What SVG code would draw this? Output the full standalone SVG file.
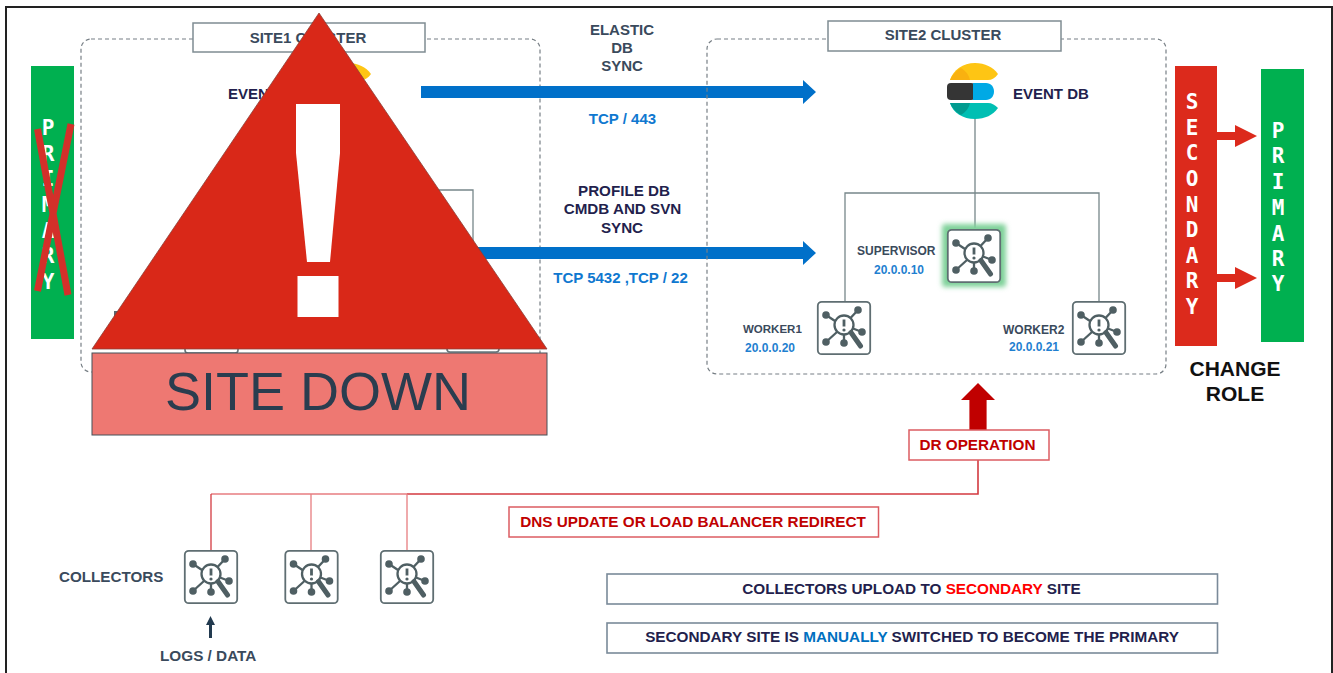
<svg xmlns="http://www.w3.org/2000/svg" width="1333" height="673" viewBox="0 0 1333 673">
<style>
text{font-family:"Liberation Sans",Arial,sans-serif;font-weight:700}
.c{text-anchor:middle}
.lbl{fill:#3a4a5c}
.navy{fill:#231f4d}
.ip{fill:#1f7fd0;font-size:12px}
.tcp{fill:#0f78d0;font-size:15px}
.mono{font-family:"DejaVu Sans Mono","Liberation Mono",monospace;font-size:21px;fill:#fff;text-anchor:middle}
.dash{fill:none;stroke:#777f85;stroke-width:1.2;stroke-dasharray:4 3}
.box{fill:#fff;stroke:#7f8c92;stroke-width:1.5}
.conn{fill:none;stroke:#77878a;stroke-width:1.3}
.rbox{fill:#fff;stroke:#dc5c62;stroke-width:1.5}
.rtxt{fill:#c00000;font-size:15.3px}
.blue{fill:#0070c9}
.red{fill:#dc2a1c}
.nbox{fill:#fff;stroke:#7a8a99;stroke-width:1.6}
.t15{font-size:15.2px}
</style>
<defs>
<filter id="glow" x="-30%" y="-30%" width="160%" height="160%"><feGaussianBlur stdDeviation="2.5"/></filter>
<symbol id="icon" viewBox="0 0 54 54" overflow="visible">
<rect x="0.8" y="0.8" width="52.4" height="52.4" rx="4" fill="#fff" stroke="#5f6e72" stroke-width="1.8"/>
<g stroke="#4f5f63" stroke-width="2.3" fill="none">
<circle cx="27" cy="24" r="9.500"/>
<path d="M9 14 L18 20M41 9 L33.500 17M45 31 L36 27.500M9 41 L20 31M27 42 L27 33.500"/>
<path d="M34 31.500 L43.500 45" stroke-width="5" stroke-linecap="round"/>
<path d="M27 18.500 V25.500" stroke-width="2.800"/>
</g>
<g fill="#4f5f63">
<circle cx="27" cy="29" r="1.600"/>
<circle cx="9" cy="14" r="3.800"/><circle cx="41" cy="9" r="3.800"/><circle cx="45" cy="31" r="3.800"/><circle cx="9" cy="41" r="3.800"/><circle cx="27" cy="42" r="3.800"/>
</g>
</symbol>
<symbol id="elastic" viewBox="0 0 54 60" overflow="visible">
<path d="M3 17 C6 7 16 0 28 0 C38 0 46 4 51 11 C48 15 45 17 41 17Z" fill="#fec514"/>
<path d="M3 17 C5 12 10 7 14 5 C19 8 22 12 23 17Z" fill="#f9b110"/>
<rect x="0" y="20" width="28" height="17" rx="4" fill="#353535"/>
<path d="M26 20 H39 C44 20 47 24 47 28.500 C47 33 44 37 39 37 H26Z" fill="#00a9e5"/>
<path d="M3 40 C6 50 16 56 28 56 C38 56 46 52 51 45 C48 42 45 40 41 40Z" fill="#00bfb3"/>
<path d="M3 40 C5 45 10 50 14 52 C19 49 22 45 23 40Z" fill="#019b8f"/>
</symbol>
</defs>
<rect width="1333" height="673" fill="#fff"/>
<path d="M6 673V7H1332V673" fill="none" stroke="#222" stroke-width="2"/>

<g id="site1-cluster">
<rect class="dash" x="81" y="39" width="459" height="333" rx="10"/>
<rect class="box" x="193" y="23" width="232" height="29"/>
<text class="c lbl" x="308" y="43" style="font-size:15px">SITE1 CLUSTER</text>
<use href="#elastic" x="320" y="63" width="54" height="60"/>
<text class="navy" x="228" y="99" style="font-size:15px">EVENT DB</text>
<path class="conn" d="M300 190H473V245"/>
<rect x="185" y="340" width="53" height="13" rx="3" fill="#fff" stroke="#66757a" stroke-width="1.6"/>
<rect x="447" y="340" width="52" height="12" rx="3" fill="#fff" stroke="#66757a" stroke-width="1.6"/>
<rect x="114" y="311" width="6" height="6" fill="#5a6670"/>
</g>

<g id="primary-left">
<rect x="31" y="66" width="43" height="273" fill="#00b050"/>
<text class="mono" x="48" y="135">P</text><text class="mono" x="48" y="161">R</text><text class="mono" x="48" y="186">I</text><text class="mono" x="48" y="212">M</text><text class="mono" x="48" y="238">A</text><text class="mono" x="48" y="263">R</text><text class="mono" x="48" y="289">Y</text>
<path d="M37.500 129 L68 295M71 124 L37.500 291" stroke="#d3302a" stroke-width="7" fill="none"/>
</g>

<g id="connectors">
<path class="blue" d="M421 86H803V80L816 92L803 104V98H421Z"/>
<path class="blue" d="M421 247H803V241L816 253L803 265V259H421Z"/>
<path class="conn" d="M975 119V228M845 301V193H1099V301"/>
<path class="red" d="M1217 132H1235V125L1257 136L1235 147V140H1217Z"/>
<path class="red" d="M1217 274H1235V267L1257 278L1235 289V282H1217Z"/>
<path d="M978 383L995 400H986.600V431H969.400V400H961Z" fill="#c00000"/>
<path d="M978 460V494H407" fill="none" stroke="#d33a40" stroke-width="1.6"/>
<path d="M407 494H211" fill="none" stroke="#e77d80" stroke-width="1.6"/>
<path d="M211 494V550" fill="none" stroke="#d33a40" stroke-width="1.3"/>
<path d="M311 494V550M407 494V550" fill="none" stroke="#e77d80" stroke-width="1.3"/>
<path d="M209 638V625H206L210.500 616L215 625H212V638Z" fill="#223a4f"/>
</g>

<g id="sync-labels">
<text class="c lbl" x="622" y="35" style="font-size:15px">ELASTIC</text>
<text class="c lbl" x="622" y="53" style="font-size:15px">DB</text>
<text class="c lbl" x="622" y="71" style="font-size:15px">SYNC</text>
<text class="c tcp" x="622.500" y="124">TCP / 443</text>
<text class="c navy t15" x="624" y="196">PROFILE DB</text>
<text class="c navy t15" x="622.500" y="214">CMDB AND SVN</text>
<text class="c navy t15" x="622" y="233">SYNC</text>
<text class="c tcp" x="620.500" y="283">TCP 5432 ,TCP / 22</text>
</g>

<g id="site2-cluster">
<rect class="dash" x="707" y="39" width="459" height="335" rx="10"/>
<rect class="box" x="828" y="21" width="233" height="30"/>
<text class="c lbl" x="943" y="40" style="font-size:15px">SITE2 CLUSTER</text>
</g>
<g id="event-db">
<use href="#elastic" x="947" y="63" width="54" height="60"/>
<text class="navy" x="1013" y="99" style="font-size:15px">EVENT DB</text>
</g>
<g id="supervisor">
<rect x="942" y="224" width="64" height="63" rx="3" fill="#7fd19a" filter="url(#glow)"/>
<use href="#icon" x="947" y="229" width="54" height="54"/>
<text class="lbl" x="857" y="255" style="font-size:12px">SUPERVISOR</text>
<text class="ip" x="874" y="274">20.0.0.10</text>
</g>
<g id="worker1">
<use href="#icon" x="817" y="301" width="54" height="54"/>
<text class="lbl" x="743" y="333" style="font-size:11.500px">WORKER1</text>
<text class="ip" x="745" y="352">20.0.0.20</text>
</g>
<g id="worker2">
<use href="#icon" x="1072" y="301" width="54" height="54"/>
<text class="lbl" x="1003" y="334" style="font-size:12px">WORKER2</text>
<text class="ip" x="1009" y="351">20.0.0.21</text>
</g>

<g id="secondary">
<rect x="1175" y="66" width="42" height="280" fill="#dc2a1c"/>
<text class="mono" x="1192" y="109">S</text><text class="mono" x="1192" y="135">E</text><text class="mono" x="1192" y="160">C</text><text class="mono" x="1192" y="186">O</text><text class="mono" x="1192" y="212">N</text><text class="mono" x="1192" y="237">D</text><text class="mono" x="1192" y="263">A</text><text class="mono" x="1192" y="288">R</text><text class="mono" x="1192" y="314">Y</text>
</g>
<g id="primary-right">
<rect x="1261" y="69" width="43" height="273" fill="#00b050"/>
<text class="mono" x="1278" y="138">P</text><text class="mono" x="1278" y="163">R</text><text class="mono" x="1278" y="189">I</text><text class="mono" x="1278" y="215">M</text><text class="mono" x="1278" y="241">A</text><text class="mono" x="1278" y="266">R</text><text class="mono" x="1278" y="291">Y</text>
</g>
<g id="change-role">
<text class="c" x="1235" y="376" fill="#111" style="font-size:21px">CHANGE</text>
<text class="c" x="1235" y="401" fill="#111" style="font-size:21px">ROLE</text>
</g>

<g id="dr-operation">
<rect class="rbox" x="909" y="430" width="140" height="30"/>
<text class="c rtxt" x="977.500" y="450">DR OPERATION</text>
</g>
<g id="dns-update">
<rect class="rbox" x="509" y="507" width="369.500" height="30"/>
<text class="c rtxt" x="693" y="527">DNS UPDATE OR LOAD BALANCER REDIRECT</text>
</g>

<g id="collectors">
<text class="lbl" x="59" y="582" style="font-size:15.2px">COLLECTORS</text>
<use href="#icon" x="184" y="550" width="54" height="54"/>
<use href="#icon" x="284.500" y="550" width="54" height="54"/>
<use href="#icon" x="380" y="550" width="54" height="54"/>
<text class="lbl" x="160" y="661" style="font-size:15.3px">LOGS / DATA</text>
</g>

<g id="note-upload">
<rect class="nbox" x="607" y="574" width="610.500" height="30"/>
<text class="c navy" x="911.500" y="594" style="font-size:15.3px">COLLECTORS UPLOAD TO <tspan fill="#ff0000">SECONDARY</tspan> SITE</text>
</g>
<g id="note-switch">
<rect class="nbox" x="607" y="623" width="610.500" height="30"/>
<text class="c navy" x="912" y="642" style="font-size:15.3px">SECONDARY SITE IS <tspan fill="#0070c0">MANUALLY</tspan> SWITCHED TO BECOME THE PRIMARY</text>
</g>

<g id="site-down">
<path d="M319 13L547 349H92Z" fill="#d92818" stroke="#8a4038" stroke-width="0.8"/>
<path d="M296 104H340V153L330 262H307L296 153Z" fill="#fff"/>
<rect x="297.500" y="276" width="41" height="41" fill="#fff"/>
<rect x="92" y="353" width="455" height="82" fill="#ee7872" stroke="#445058" stroke-width="1"/>
<text class="c" x="318" y="410" fill="#2a3d4f" style="font-size:54px;font-weight:400">SITE DOWN</text>
</g>
</svg>
